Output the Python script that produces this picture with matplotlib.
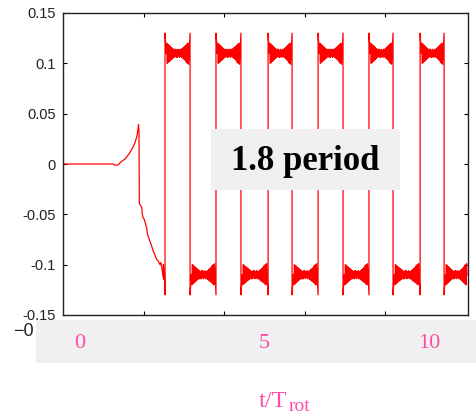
import matplotlib
matplotlib.use("Agg")
import matplotlib.pyplot as plt
from matplotlib.patches import Rectangle
import numpy as np

# start-up transient before the switching begins (t, value)
t_pre = [0.0, 0.621, 0.646, 0.683, 0.720, 0.770, 0.820, 0.857, 0.894, 0.919,
         0.932, 0.938, 0.944, 0.948, 0.960, 0.978, 0.985, 0.998, 1.010, 1.040,
         1.050, 1.081, 1.095, 1.122, 1.135, 1.164, 1.180, 1.205, 1.215, 1.230,
         1.242, 1.248, 1.255, 1.260]
v_pre = [0.0, 0.0, -0.001, -0.001, 0.002, 0.005, 0.010, 0.015, 0.021, 0.028,
         0.035, 0.039, 0.032, -0.039, -0.041, -0.043, -0.050, -0.054, -0.055, -0.064,
         -0.070, -0.077, -0.080, -0.087, -0.089, -0.095, -0.096, -0.100, -0.098, -0.104,
         -0.112, -0.100, -0.115, -0.108]

# switching instants (first one is rising, then alternating)
t_edges = [1.267, 1.578, 1.900, 2.210, 2.547, 2.845, 3.168, 3.478, 3.800, 4.099,
           4.435, 4.733]
t_end = 5.03
level = 0.110
spike = 0.130

# ripple on each plateau (bow-tie shape), offsets from plateau level
ripple = [0.000, 0.010, -0.010, 0.009, -0.009, 0.008, -0.008, 0.007, -0.007, 0.006,
          -0.006, 0.005, -0.005, 0.004, -0.004, 0.004, -0.003, 0.004, -0.004, 0.003,
          -0.004, 0.004, -0.003, 0.003, -0.004, 0.004, -0.003, 0.004, -0.004, 0.005,
          -0.005, 0.006, -0.006, 0.007, -0.007, 0.008, -0.009, 0.009, -0.010, 0.010,
          -0.011, 0.000]

yticks = [-0.15, -0.1, -0.05, 0, 0.05, 0.1, 0.15]
ytick_labels = ["-0.15", "-0.1", "-0.05", "0", "0.05", "0.1", "0.15"]
pink_labels = ["0", "5", "10"]
pink_x = [79.5, 264, 429]  # pixel centres of the overlay labels

# build the trace
t = list(t_pre)
v = list(v_pre)
bounds = t_edges + [t_end]
for i, te in enumerate(t_edges):
    sign = 1 if i % 2 == 0 else -1
    t += [te, te]
    v += [-sign * spike, sign * spike]
    tp = np.linspace(te + 0.015, bounds[i + 1] - 0.012, len(ripple))
    t += list(tp)
    v += [sign * (level + r) for r in ripple]

W, H = 476, 418
fig = plt.figure(figsize=(W / 100, H / 100), dpi=100)
ax = fig.add_axes([63 / W, 1 - 315 / H, (468 - 63) / W, (315 - 13) / H])

ax.plot(t, v, color="#ff0000", lw=0.9)
ax.set_xlim(0, t_end)
ax.set_ylim(-0.15, 0.15)
ax.set_xticks([1, 2, 3, 4])
ax.set_yticks(yticks)
ax.set_yticklabels(ytick_labels, family="Liberation Sans", fontsize=10.5, color="#222222")
ax.tick_params(direction="in", length=3, width=0.8, top=True, right=True,
               labelbottom=False, pad=5)
for s in ax.spines.values():
    s.set_linewidth(1.0)
    s.set_color("#222222")

def fx(x):
    return x / W

def fy(y):
    return 1 - y / H

# grey overlay over the x tick labels
fig.add_artist(Rectangle((fx(36), fy(363)), fx(476) - fx(36), fy(320) - fy(363),
                         transform=fig.transFigure, facecolor="#f0f0f0",
                         edgecolor="none", zorder=5))
fig.text(fx(23), fy(332), "\u22120", family="Liberation Sans", fontsize=13,
         color="#222222", ha="center", va="center", zorder=4)
for lab, xp in zip(pink_labels, pink_x):
    fig.text(fx(xp), fy(343), lab, family="Liberation Serif", fontsize=16,
             color="#ff4da6", ha="center", va="center", zorder=6)

fig.text(fx(259), fy(407), "t/T", family="Liberation Serif", fontsize=17.5,
         color="#ff4da6", ha="left", va="baseline")
fig.text(fx(289), fy(411), "rot", family="Liberation Serif", fontsize=14,
         color="#ff4da6", ha="left", va="baseline")

# annotation box
fig.add_artist(Rectangle((fx(211), fy(190)), fx(400) - fx(211), fy(129) - fy(190),
                         transform=fig.transFigure, facecolor="#f0f0f0",
                         edgecolor="none", zorder=5))
fig.text(fx(305), fy(161), "1.8 period", family="Liberation Serif", weight="bold",
         fontsize=25, color="black", ha="center", va="center", zorder=6)

fig.savefig("out.png", dpi=100)
